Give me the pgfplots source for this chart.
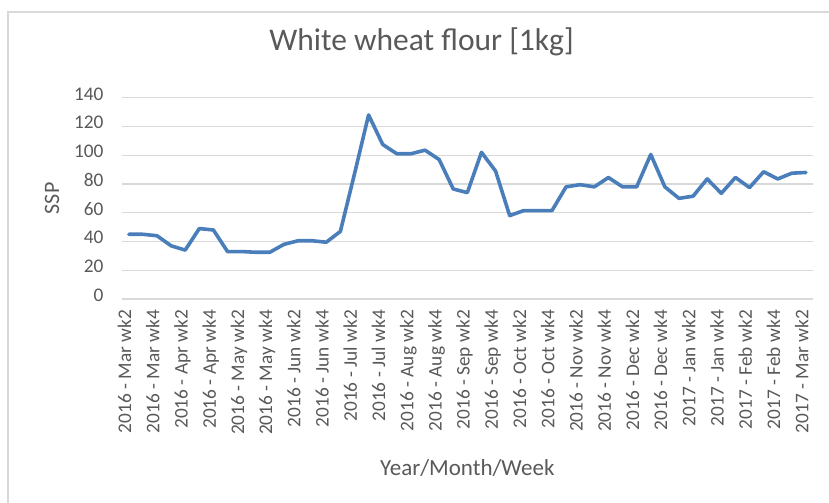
\documentclass[border=0pt]{standalone}
\usepackage{pgfplots}
\pgfplotsset{compat=1.18}
\usepackage{fontspec}
\setmainfont{Carlito}
\definecolor{txtc}{HTML}{595959}
\definecolor{gridc}{HTML}{D9D9D9}
\definecolor{linec}{HTML}{4A7EBB}
\begin{document}
\begin{tikzpicture}
\path[use as bounding box] (0,0) rectangle (829bp,503bp);
\draw[color=gridc, line width=1.4bp] (8bp,-5bp) -- (8bp,491bp) -- (840bp,491bp);
\begin{axis}[
  at={(121.7bp,204bp)}, anchor=south west,
  width=691.3bp, height=201.3bp, scale only axis,
  xmin=-0.5, xmax=48.5, ymin=0, ymax=140,
  ytick={0,20,...,140},
  xtick={0,2,...,48},
  xticklabels={2016 - Mar wk2,2016 - Mar wk4,2016 - Apr wk2,2016 - Apr wk4,2016 - May wk2,2016 - May wk4,2016 - Jun wk2,2016 - Jun wk4,2016 - Jul wk2,2016 - Jul wk4,2016 - Aug wk2,2016 - Aug wk4,2016 - Sep wk2,2016 - Sep wk4,2016 - Oct wk2,2016 - Oct wk4,2016 - Nov wk2,2016 - Nov wk4,2016 - Dec wk2,2016 - Dec wk4,2017 - Jan wk2,2017 - Jan wk4,2017 - Feb wk2,2017 - Feb wk4,2017 - Mar wk2},
  ymajorgrids,
  grid style={color=gridc, line width=1.2bp},
  axis line style={draw=none},
  major tick length=0pt,
  tick label style={font=\fontsize{19.3bp}{22bp}\selectfont, text=txtc},
  /pgf/number format/assume math mode=true,
  xticklabel style={rotate=90, anchor=mid east, inner xsep=11bp, inner ysep=0pt},
  yticklabel style={anchor=mid east, inner xsep=18bp, inner ysep=0pt},
  title={White wheat flour [1kg]},
  title style={font=\fontsize{31.5bp}{34bp}\selectfont, text=txtc, at={(axis description cs:0.4337,1.2037)}, anchor=base},
  xlabel={Year/Month/Week},
  xlabel style={font=\fontsize{23bp}{26bp}\selectfont, text=txtc, at={(axis description cs:0.5,-0.8395)}, anchor=center},
  ylabel={SSP},
  ylabel style={font=\fontsize{22bp}{24bp}\selectfont, text=txtc, at={(axis description cs:-0.1008,0.5)}, anchor=center},
]
\addplot[color=linec, line width=3.6bp, line join=round, line cap=round] table {
x y
0 45
1 45
2 44
3 37
4 34
5 49
6 48
7 33
8 33
9 32.5
10 32.5
11 38
12 40.5
13 40.5
14 39.5
15 47
16 87
17 128
18 107.5
19 101
20 101
21 103.5
22 97
23 76.5
24 74
25 102
26 89
27 58
28 61.5
29 61.5
30 61.5
31 78
32 79.5
33 78
34 84.5
35 78
36 78
37 100.5
38 78
39 70
40 71.5
41 83.5
42 73.5
43 84.5
44 77.5
45 88.5
46 83.5
47 87.5
48 88
};
\end{axis}
\end{tikzpicture}
\end{document}
